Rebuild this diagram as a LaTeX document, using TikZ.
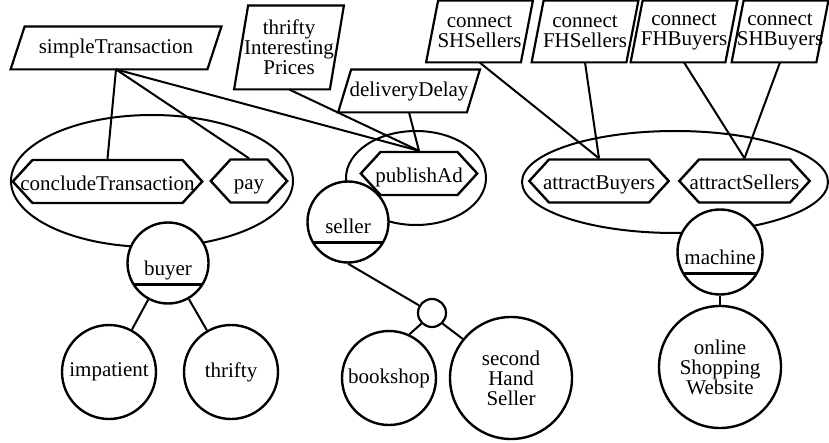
\documentclass[tikz,border=0pt]{standalone}
\usepackage{fontspec}
\setmainfont{Liberation Serif}
\usetikzlibrary{shapes.geometric,shapes.symbols}

\begin{document}
\begin{tikzpicture}[x=0.5pt,y=-0.5pt,
          every node/.style={font=\fontsize{10.5}{10}\selectfont},
          boundary/.style={ellipse, draw, line width=1pt, inner sep=0pt},
          taskbox/.style={signal, signal to=east and west, signal pointer angle=95,
            draw, fill=white, line width=1.2pt, inner xsep=0pt, inner ysep=0pt,
            text height=9pt, text depth=0pt, minimum height=21.5pt},
          goalbox/.style={rectangle, inner sep=0pt, align=center, minimum height=21pt,
            append after command={\pgfextra{\draw[line width=1.1pt]
              ([xshift=#1]\tikzlastnode.north west) -- (\tikzlastnode.north east) --
              ([xshift=-#1]\tikzlastnode.south east) -- (\tikzlastnode.south west) -- cycle;}}},
          goalbox/.default=7pt,
          twoline/.style={goalbox=6pt, minimum width=53pt, minimum height=30.5pt},
          actorcircle/.style={circle, draw, fill=white, line width=1.2pt,
            inner sep=0pt, align=center, minimum size=47pt},
          rolecircle/.style={actorcircle, minimum size=40.5pt, text height=12pt,
            text depth=0pt, path picture={\draw[line width=1.5pt]
              ([yshift=-10.5pt]path picture bounding box.west) --
              ([yshift=-10.5pt]path picture bounding box.east);}},
          link/.style={line width=1pt}]

        \useasboundingbox (0,0) rectangle (829,443);

        \node[boundary, minimum width=141pt, minimum height=66pt] (buyerB)   at (152,181) {};
        \node[boundary, minimum width=70pt,  minimum height=47pt] (sellerB)  at (416,178) {};
        \node[boundary, minimum width=153pt, minimum height=51pt] (machineB) at (675,182) {};

        \node[taskbox] (conclude) at (107.5,181.5) {\makebox[75pt]{concludeTransaction}};
        \node[taskbox] (pay)      at (249,181)     {\makebox[18.5pt]{pay}};
        \node[taskbox] (publish)  at (419,173.5)   {\makebox[38.5pt]{publishAd}};
        \node[taskbox] (attrB)    at (599,181)     {\makebox[50pt]{attractBuyers}};
        \node[taskbox] (attrS)    at (744.5,181)   {\makebox[45.5pt]{attractSellers}};

        \node[goalbox, minimum width=105pt] (simple) at (116,48) {simpleTransaction};
        \node[goalbox, minimum width=54.5pt, minimum height=41.5pt] (prices) at (289,47.5)
              {thrifty\\Interesting\\Prices};
        \node[goalbox=6.5pt, minimum width=70.5pt] (delay) at (409,91) {deliveryDelay};

        \node[twoline] (cSHS) at (479.5,31.5) {connect\\SHSellers};
        \node[twoline] (cFHS) at (585,31.5)   {connect\\FHSellers};
        \node[twoline] (cFHB) at (684,31.5)   {connect\\FHBuyers};
        \node[twoline, minimum width=48pt] (cSHB) at (780,31.5) {connect\\SHBuyers};

        \node[rolecircle] (buyer)  at (168,263) {buyer};
        \node[rolecircle] (seller) at (348,222) {seller};
        \node[rolecircle, minimum size=42.5pt] (machine) at (720,252) {machine};

        \node[actorcircle] (impatient) at (109,372) {impatient};
        \node[actorcircle] (thrifty)   at (231,372) {thrifty};
        \node[actorcircle] (bookshop)  at (389,378) {bookshop};
        \node[actorcircle, minimum size=61pt] (secondHand) at (511,378) {second\\Hand\\Seller};
        \node[actorcircle, minimum size=61pt] (website)    at (720,367) {online\\Shopping\\Website};
        \node[circle, draw, line width=1.1pt, inner sep=0pt, minimum size=14pt] (isa) at (432,313) {};

        \draw[link] (simple.south) -- (conclude.north);
        \draw[link] (simple.south) -- (pay.north);
        \draw[link] (simple.south) -- (publish.north);
        \draw[link] (prices.south) -- (publish.north);
        \draw[link] (delay.south)  -- (publish.north);

        \draw[link] (cSHS.south) -- (attrB.north);
        \draw[link] (cFHS.south) -- (attrB.north);
        \draw[link] (cFHB.south) -- (attrS.north);
        \draw[link] (cSHB.south) -- (attrS.north);

        \draw[link] (buyer)   -- (impatient);
        \draw[link] (buyer)   -- (thrifty);
        \draw[link] (seller.south) -- (isa);
        \draw[link] (isa.south west) -- (bookshop.65);
        \draw[link] (isa.south east) -- (secondHand.141);
        \draw[link] (machine) -- (website);

      \end{tikzpicture}
\end{document}
